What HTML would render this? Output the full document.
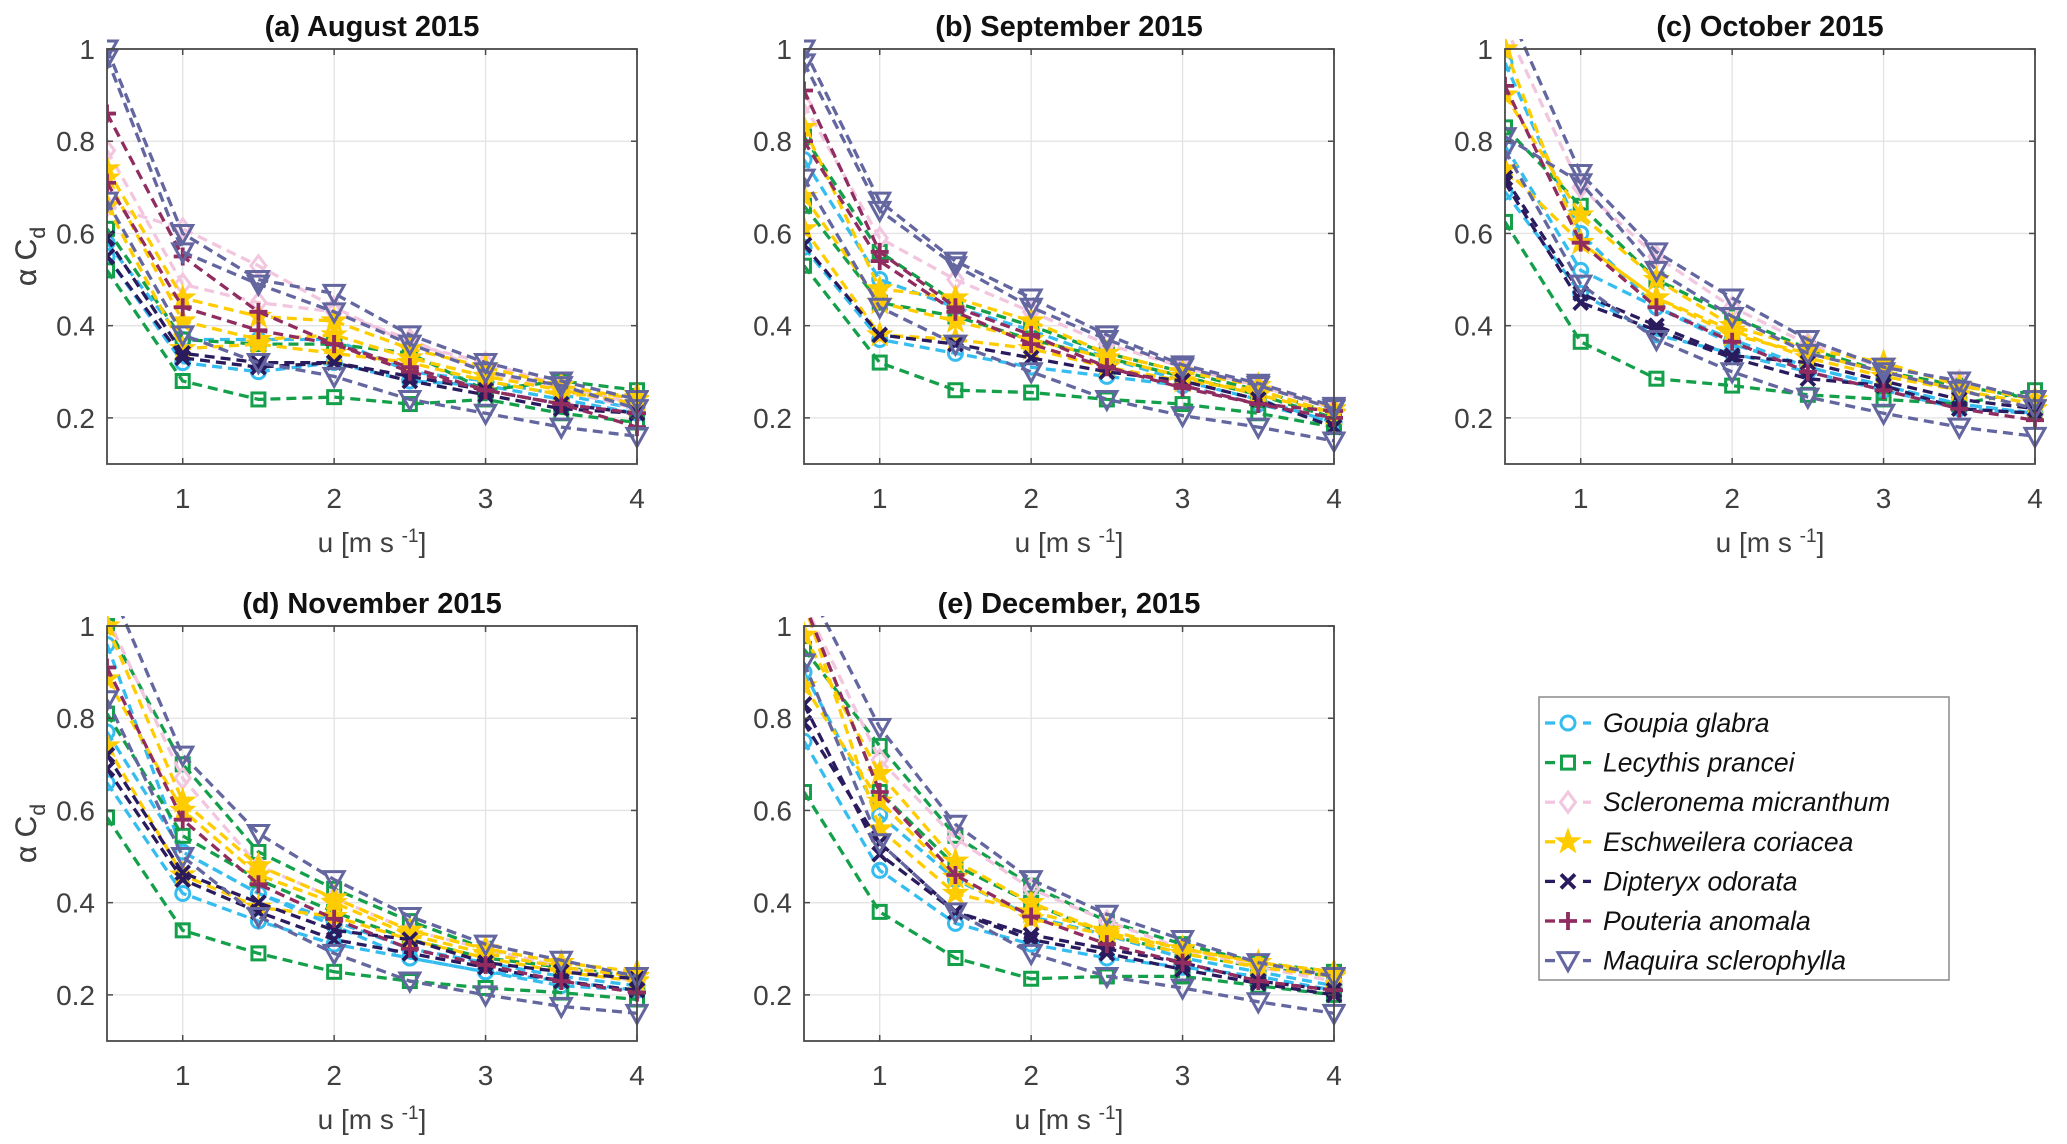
<!DOCTYPE html>
<html><head><meta charset="utf-8"><style>
html,body{margin:0;padding:0;background:#fff;}
svg{display:block;font-family:"Liberation Sans",sans-serif;}
</style></head><body>
<svg id="fig" width="2067" height="1144" viewBox="0 0 2067 1144" xmlns="http://www.w3.org/2000/svg"></svg>
<script>
const xValues=[0.5,1,1.5,2,2.5,3,3.5,4];
const xTicks=[1,2,3,4];
const yTicks=[0.2,0.4,0.6,0.8,1];
const yTickLabels=["0.2","0.4","0.6","0.8","1"];
const speciesNames=["Goupia glabra","Lecythis prancei","Scleronema micranthum","Eschweilera coriacea","Dipteryx odorata","Pouteria anomala","Maquira sclerophylla"];
const panelTitles=["(a) August 2015","(b) September 2015","(c) October 2015","(d) November 2015","(e) December, 2015"];
// each series: [speciesIndex, values...]
const augSeries=[
[0,0.55,0.32,0.30,0.32,0.28,0.27,0.24,0.21],[0,0.58,0.37,0.37,0.37,0.30,0.28,0.25,0.22],
[1,0.52,0.28,0.24,0.245,0.23,0.24,0.21,0.19],[1,0.61,0.37,0.36,0.36,0.34,0.26,0.28,0.26],
[2,0.78,0.49,0.45,0.43,0.37,0.30,0.26,0.22],[2,0.66,0.61,0.53,0.44,0.36,0.32,0.27,0.23],
[3,0.74,0.46,0.42,0.41,0.35,0.31,0.27,0.24],[3,0.72,0.41,0.37,0.38,0.33,0.29,0.26,0.23],[3,0.66,0.35,0.36,0.34,0.32,0.28,0.25,0.25],
[4,0.59,0.34,0.32,0.32,0.29,0.26,0.23,0.21],[4,0.55,0.33,0.31,0.32,0.28,0.25,0.22,0.21],
[5,0.86,0.55,0.43,0.36,0.31,0.26,0.23,0.21],[5,0.71,0.44,0.39,0.36,0.30,0.26,0.23,0.18],
[6,1.0,0.60,0.50,0.47,0.38,0.32,0.28,0.24],[6,0.98,0.56,0.49,0.43,0.36,0.30,0.27,0.22],[6,0.67,0.38,0.32,0.29,0.24,0.21,0.18,0.16]];
const sepSeries=[
[0,0.76,0.50,0.44,0.39,0.33,0.28,0.24,0.19],[0,0.57,0.37,0.34,0.31,0.29,0.27,0.23,0.19],
[1,0.53,0.32,0.26,0.255,0.24,0.23,0.21,0.18],[1,0.81,0.56,0.45,0.40,0.34,0.30,0.26,0.21],[1,0.66,0.45,0.42,0.37,0.33,0.29,0.25,0.20],
[2,0.88,0.59,0.50,0.43,0.36,0.31,0.27,0.22],
[3,0.83,0.48,0.46,0.41,0.34,0.30,0.27,0.22],[3,0.68,0.45,0.41,0.37,0.33,0.29,0.25,0.21],[3,0.61,0.38,0.37,0.35,0.31,0.28,0.26,0.21],
[4,0.575,0.38,0.36,0.33,0.30,0.28,0.24,0.18],
[5,0.91,0.56,0.44,0.38,0.31,0.265,0.23,0.215],[5,0.80,0.54,0.43,0.36,0.31,0.27,0.23,0.20],
[6,1.0,0.67,0.54,0.46,0.38,0.315,0.275,0.225],[6,0.97,0.65,0.53,0.44,0.37,0.31,0.27,0.22],[6,0.72,0.44,0.36,0.30,0.24,0.205,0.18,0.15]];
const octSeries=[
[0,0.97,0.60,0.44,0.37,0.31,0.27,0.23,0.21],[0,0.79,0.52,0.44,0.36,0.31,0.27,0.23,0.21],[0,0.69,0.47,0.38,0.34,0.30,0.26,0.22,0.21],
[1,0.625,0.365,0.285,0.27,0.25,0.24,0.23,0.26],[1,0.83,0.66,0.50,0.42,0.35,0.30,0.27,0.24],
[2,1.05,0.70,0.55,0.44,0.36,0.31,0.28,0.24],
[3,0.90,0.64,0.50,0.40,0.35,0.32,0.27,0.24],[3,1.0,0.58,0.46,0.38,0.34,0.30,0.26,0.23],[3,0.74,0.58,0.46,0.39,0.33,0.29,0.26,0.22],
[4,0.72,0.47,0.40,0.335,0.32,0.28,0.24,0.22],[4,0.71,0.45,0.39,0.33,0.285,0.27,0.22,0.21],
[5,0.92,0.58,0.44,0.365,0.30,0.26,0.22,0.195],
[6,1.1,0.73,0.56,0.46,0.37,0.31,0.28,0.24],[6,0.81,0.71,0.52,0.42,0.34,0.30,0.26,0.22],[6,0.78,0.49,0.37,0.30,0.245,0.21,0.18,0.16]];
const novSeries=[
[0,0.96,0.51,0.42,0.36,0.30,0.27,0.24,0.22],[0,0.77,0.51,0.42,0.35,0.28,0.25,0.23,0.21],[0,0.66,0.42,0.36,0.31,0.28,0.25,0.22,0.21],
[1,1.0,0.70,0.51,0.43,0.36,0.30,0.26,0.24],[1,0.81,0.545,0.45,0.38,0.32,0.28,0.26,0.23],[1,0.585,0.34,0.29,0.25,0.23,0.215,0.205,0.19],
[2,1.02,0.67,0.48,0.41,0.34,0.30,0.26,0.23],
[3,1.0,0.62,0.48,0.41,0.34,0.30,0.27,0.25],[3,0.885,0.60,0.46,0.40,0.33,0.29,0.26,0.24],[3,0.74,0.46,0.39,0.37,0.32,0.28,0.25,0.23],
[4,0.72,0.465,0.40,0.34,0.32,0.27,0.25,0.235],[4,0.69,0.45,0.38,0.32,0.29,0.26,0.23,0.21],
[5,0.91,0.58,0.44,0.365,0.30,0.265,0.23,0.205],
[6,1.1,0.72,0.55,0.45,0.37,0.31,0.275,0.24],[6,0.84,0.50,0.37,0.29,0.23,0.20,0.175,0.16]];
const decSeries=[
[0,0.90,0.59,0.45,0.37,0.33,0.28,0.25,0.22],[0,0.75,0.47,0.355,0.31,0.28,0.26,0.24,0.21],
[1,0.95,0.74,0.545,0.437,0.36,0.31,0.27,0.25],[1,0.64,0.38,0.28,0.235,0.24,0.24,0.22,0.20],[1,1.05,0.64,0.48,0.40,0.33,0.29,0.26,0.24],
[2,1.05,0.71,0.54,0.43,0.36,0.30,0.26,0.23],
[3,0.98,0.68,0.49,0.40,0.335,0.30,0.27,0.245],[3,0.87,0.62,0.455,0.365,0.33,0.29,0.26,0.24],[3,1.05,0.56,0.42,0.38,0.34,0.30,0.27,0.25],
[4,0.83,0.505,0.38,0.32,0.29,0.255,0.225,0.2],[4,0.79,0.53,0.38,0.33,0.30,0.27,0.23,0.21],
[5,1.05,0.64,0.46,0.37,0.31,0.27,0.23,0.21],
[6,1.1,0.78,0.57,0.45,0.375,0.32,0.27,0.24],[6,0.92,0.53,0.38,0.29,0.24,0.215,0.185,0.16]];
const panelData=[augSeries,sepSeries,octSeries,novSeries,decSeries];

const colors=["#35bdf0","#14a04a","#f2c6df","#ffcc00","#2a1b5f","#902c60","#6466a0"];
const markers=["o","s","d","p","x","+","v"];
const panelBoxes=[[107,49],[804,49],[1505,49],[107,626],[804,626]];
const PW=530,PH=415,XMIN=0.5,XMAX=4,YMIN=0.1,YMAX=1;
const NS="http://www.w3.org/2000/svg";
const svg=document.getElementById('fig');
function mk(tag,attrs,parent){const e=document.createElementNS(NS,tag);for(const k in attrs)e.setAttribute(k,attrs[k]);(parent||svg).appendChild(e);return e;}
function marker(g,type,cx,cy,col){
  let e;
  if(type==="o")e=mk('circle',{cx:cx,cy:cy,r:7,fill:'none',stroke:col,'stroke-width':3},g);
  else if(type==="s")e=mk('rect',{x:cx-6.5,y:cy-6.5,width:13,height:13,fill:'none',stroke:col,'stroke-width':3},g);
  else if(type==="d")e=mk('path',{d:`M${cx},${cy-10}L${cx+7.5},${cy}L${cx},${cy+10}L${cx-7.5},${cy}Z`,fill:'none',stroke:col,'stroke-width':3},g);
  else if(type==="p"){let d='';for(let i=0;i<10;i++){const r=i%2?5.2:13,a=-Math.PI/2+i*Math.PI/5;d+=(i?'L':'M')+(cx+r*Math.cos(a)).toFixed(1)+','+(cy+r*Math.sin(a)).toFixed(1);}e=mk('path',{d:d+'Z',fill:col,stroke:col,'stroke-width':1},g);}
  else if(type==="x")e=mk('path',{d:`M${cx-7},${cy-7}L${cx+7},${cy+7}M${cx-7},${cy+7}L${cx+7},${cy-7}`,stroke:col,'stroke-width':3.8,fill:'none'},g);
  else if(type==="+")e=mk('path',{d:`M${cx-9},${cy}L${cx+9},${cy}M${cx},${cy-9}L${cx},${cy+9}`,stroke:col,'stroke-width':3.8,fill:'none'},g);
  else e=mk('path',{d:`M${cx-10},${cy-8}L${cx+10},${cy-8}L${cx},${cy+10}Z`,fill:'none',stroke:col,'stroke-width':3},g);
  return e;
}
const defs=mk('defs',{});
panelBoxes.forEach((b,p)=>{
  const L=b[0],T=b[1];
  const xs=v=>L+(v-XMIN)/(XMAX-XMIN)*PW;
  const ys=v=>T+(YMAX-v)/(YMAX-YMIN)*PH;
  const cp=mk('clipPath',{id:'clip'+p},defs);mk('rect',{x:L,y:T-10,width:PW+12,height:PH+10},cp);
  const g=mk('g',{});
  
  
  const t=mk('text',{x:L+PW/2,y:T-13,'text-anchor':'middle','font-size':29,'font-weight':'bold',fill:'#111'},g);
  t.textContent=panelTitles[p];
  
  
  const grid=mk('g',{stroke:'#e3e3e3','stroke-width':1.3},g);
  
  
  xTicks.forEach(v=>mk('line',{x1:xs(v),x2:xs(v),y1:T,y2:T+PH},grid));
  yTicks.forEach(v=>mk('line',{x1:L,x2:L+PW,y1:ys(v),y2:ys(v)},grid));
  const plot=mk('g',{'clip-path':`url(#clip${p})`},g);
  
  
  panelData[p].forEach((s,si)=>{
    const sp=s[0],vals=s.slice(1),col=colors[sp];
    const sg=mk('g',{},plot);
    
    
    const d=vals.map((v,i)=>(i?'L':'M')+xs(xValues[i]).toFixed(1)+','+ys(v).toFixed(1)).join('');
    mk('path',{d:d,fill:'none',stroke:col,'stroke-width':3.3,'stroke-dasharray':'10 6'},sg);
    vals.forEach((v,i)=>{if(v<=1.005){const m=marker(sg,markers[sp],xs(xValues[i]),ys(v),col);
      
      }});
  });
  const ax=mk('g',{},g);
  
  
  mk('rect',{x:L,y:T,width:PW,height:PH,fill:'none',stroke:'#4a4a4a','stroke-width':1.8},ax);
  xTicks.forEach(v=>{mk('line',{x1:xs(v),x2:xs(v),y1:T+PH,y2:T+PH-6,stroke:'#4a4a4a','stroke-width':1.5},ax);mk('line',{x1:xs(v),x2:xs(v),y1:T,y2:T+6,stroke:'#4a4a4a','stroke-width':1.5},ax);
    const tl=mk('text',{x:xs(v),y:T+PH+44,'text-anchor':'middle','font-size':28,fill:'#404040'},ax);tl.textContent=String(v);
    
    });
  yTicks.forEach((v,i)=>{mk('line',{x1:L,x2:L+6,y1:ys(v),y2:ys(v),stroke:'#4a4a4a','stroke-width':1.5},ax);mk('line',{x1:L+PW,x2:L+PW-6,y1:ys(v),y2:ys(v),stroke:'#4a4a4a','stroke-width':1.5},ax);
    const tl=mk('text',{x:L-12,y:ys(v)+10,'text-anchor':'end','font-size':28,fill:'#404040'},ax);tl.textContent=yTickLabels[i];
    
    });
  const xl=mk('text',{x:L+PW/2,y:T+PH+88,'text-anchor':'middle','font-size':28,fill:'#404040'},g);
  xl.innerHTML='u [m s <tspan dy="-10" font-size="19">-1</tspan><tspan dy="10">]</tspan>';
  
  
  const yl=mk('text',{x:0,y:0,'text-anchor':'middle','font-size':30,fill:'#404040',transform:`translate(36,${T+PH/2}) rotate(-90)`},g);
  yl.innerHTML='α C<tspan dy="9" font-size="21">d</tspan>';
  
  
});
// legend
const lg=mk('g',{});


mk('rect',{x:1539,y:697,width:410,height:283,fill:'#fff',stroke:'#8a8a8a','stroke-width':1.5},lg);
speciesNames.forEach((n,i)=>{
  const cy=723+39.6*i,col=colors[i];
  const eg=mk('g',{},lg);
  
  
  mk('line',{x1:1545,x2:1555,y1:cy,y2:cy,stroke:col,'stroke-width':3.3},eg);
  mk('line',{x1:1583,x2:1591,y1:cy,y2:cy,stroke:col,'stroke-width':3.3},eg);
  marker(eg,markers[i],1568,cy,col);
  const t=mk('text',{x:1603,y:cy+9,'font-size':26.5,'font-style':'italic',fill:'#111'},eg);
  t.textContent=n;
});
</script>
</body></html>
